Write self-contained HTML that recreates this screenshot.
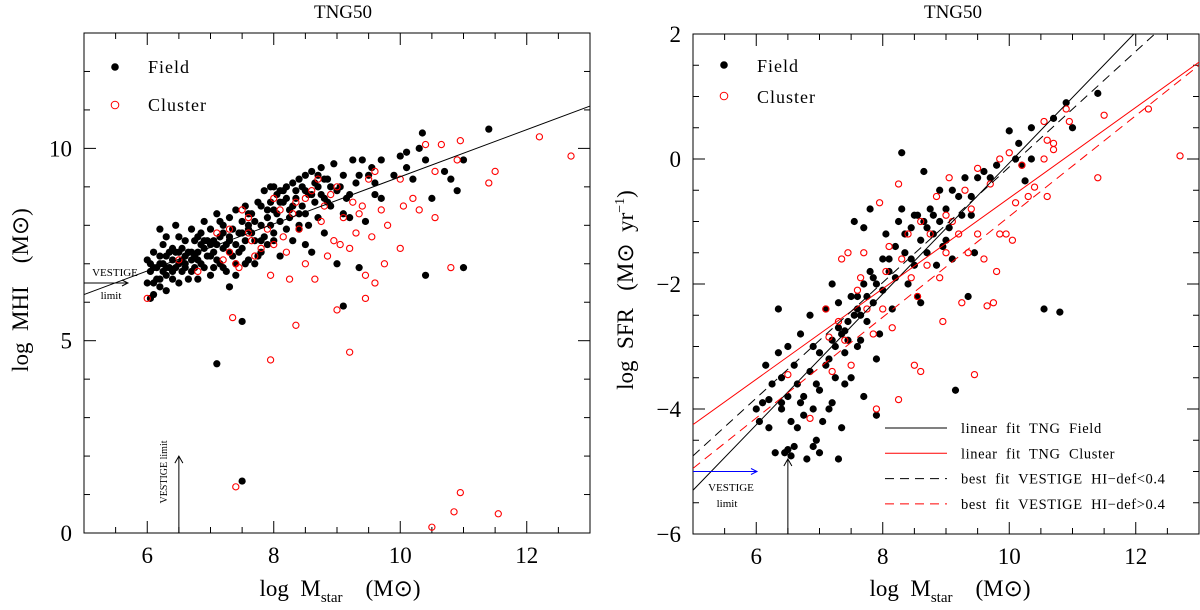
<!DOCTYPE html>
<html><head><meta charset="utf-8"><style>
html,body{margin:0;padding:0;background:#fff;}
svg{display:block;font-family:"Liberation Serif",serif;}
text{white-space:pre;}
</style></head><body>
<svg id="fig" width="1200" height="610" viewBox="0 0 1200 610" xmlns="http://www.w3.org/2000/svg"></svg>
<script>
// ---- data ----
const xTicksMajor = [6, 8, 10, 12];
const leftYTicksMajor = [0, 5, 10];
const rightYTicksMajor = [-6, -4, -2, 0, 2];
const leftField = [[6.0,7.1],[6.0,6.5],[6.05,6.8],[6.1,7.3],[6.1,6.2],[6.15,6.9],[6.2,7.0],[6.2,6.4],[6.25,7.5],[6.3,6.7],[6.3,7.2],[6.35,6.9],[6.4,7.4],[6.4,6.6],[6.45,8.0],[6.5,7.7],[6.5,7.0],[6.55,6.8],[6.6,7.6],[6.6,7.2],[6.65,6.6],[6.7,7.9],[6.7,7.3],[6.75,6.9],[6.8,7.7],[6.8,7.1],[6.85,7.5],[6.9,8.1],[6.9,6.9],[6.95,7.6],[7.0,7.2],[7.0,7.9],[7.05,6.9],[7.1,8.3],[7.1,7.5],[7.15,7.0],[7.2,8.0],[7.2,7.4],[7.25,6.8],[7.3,8.2],[7.3,7.7],[7.35,7.2],[7.4,8.4],[7.4,7.0],[7.45,7.8],[7.5,8.1],[7.5,7.4],[7.55,8.5],[7.6,7.9],[7.6,7.1],[7.65,8.3],[7.7,7.6],[7.7,7.0],[7.75,8.6],[7.8,8.0],[7.8,7.3],[7.85,8.9],[7.9,8.2],[7.9,7.5],[7.95,9.0],[8.0,8.4],[8.0,7.8],[8.05,8.8],[8.1,8.1],[8.1,7.2],[8.15,8.6],[8.2,9.0],[8.2,7.9],[8.25,8.4],[8.3,9.1],[8.3,7.6],[8.35,8.7],[8.4,9.2],[8.4,8.0],[8.45,8.5],[8.5,9.3],[8.5,7.5],[8.55,8.8],[8.6,9.4],[8.6,7.3],[8.65,8.6],[8.7,9.0],[8.7,8.2],[8.75,9.5],[8.8,8.7],[8.8,7.8],[8.85,9.2],[8.9,8.5],[8.95,9.6],[9.0,8.9],[9.0,7.0],[9.1,8.3],[9.1,9.3],[9.2,8.8],[9.25,9.7],[9.3,9.1],[9.35,6.9],[9.4,9.7],[9.45,8.1],[9.5,9.3],[9.6,9.1],[9.7,9.7],[9.7,8.7],[10.0,9.8],[10.1,9.9],[10.1,9.5],[10.2,9.2],[10.3,10.0],[10.35,10.4],[10.4,9.7],[10.5,8.7],[10.7,9.4],[10.8,9.2],[10.9,8.9],[11.0,9.7],[11.0,6.9],[11.4,10.5],[10.4,6.7],[9.1,5.9],[7.3,6.4],[7.5,5.5],[7.1,4.4],[7.5,1.35],[6.05,6.1],[6.3,6.3],[8.4,7.9],[8.0,7.6],[7.6,8.0],[7.2,7.8],[6.9,7.4],[6.6,7.0],[6.4,7.1],[6.2,6.6],[6.7,6.8],[7.0,6.7],[7.3,7.3],[7.4,6.7],[6.8,6.6],[6.5,6.5],[6.3,7.7],[6.2,7.9],[7.8,8.5],[8.1,8.6],[8.5,8.3],[8.9,9.0],[9.2,8.2],[9.6,8.8],[9.9,9.3],[6.1,6.9],[6.45,7.3],[6.75,7.6],[7.05,7.3],[7.55,7.6],[7.15,7.7],[6.55,7.4],[6.25,7.0],[6.85,7.0],[7.95,8.0],[8.25,8.2],[8.55,8.0],[8.75,8.8],[6.05,7.0],[6.15,6.6],[6.25,6.8],[6.35,7.3],[6.45,6.9],[6.55,7.1],[6.65,7.3],[6.75,7.2],[6.85,7.8],[6.95,7.2],[7.05,7.6],[7.15,8.1],[7.25,7.5],[7.35,7.9],[7.45,7.3],[7.55,7.0],[7.65,7.8],[7.75,7.2],[7.85,7.7],[7.95,8.6],[8.05,8.3],[8.15,8.9],[8.35,8.9],[8.45,9.0],[8.65,9.1],[8.85,8.6],[9.05,9.0],[9.15,8.7],[9.35,9.3],[9.55,9.5],[6.1,6.5],[6.3,6.9],[6.5,7.3],[6.7,7.1],[6.9,7.6],[7.1,7.1],[7.3,7.6],[7.5,7.8],[7.7,8.1],[7.9,8.4],[8.1,8.9],[8.3,8.5],[8.5,8.9],[8.7,9.3],[6.2,7.2],[6.4,6.8],[6.6,6.9],[6.8,7.3],[7.0,7.5],[7.2,6.9],[7.4,7.5],[7.6,8.3],[7.8,7.6],[8.0,9.0],[8.2,8.7],[8.4,8.3],[8.6,8.8],[8.8,9.2]];
const leftCluster = [[6.0,6.1],[6.5,7.1],[6.8,6.8],[7.1,7.8],[7.2,7.1],[7.3,7.9],[7.3,7.3],[7.4,7.0],[7.45,6.9],[7.5,8.4],[7.6,8.2],[7.65,7.6],[7.7,7.2],[7.8,7.4],[7.9,7.9],[7.95,6.7],[8.0,8.7],[8.0,7.5],[8.1,8.4],[8.2,7.3],[8.25,6.6],[8.3,8.3],[8.35,8.6],[8.4,7.9],[8.5,8.7],[8.5,7.0],[8.6,8.9],[8.65,6.6],[8.7,9.2],[8.8,8.5],[8.85,7.2],[8.9,8.8],[8.95,7.6],[9.0,9.0],[9.05,7.5],[9.1,8.2],[9.2,7.4],[9.25,8.6],[9.3,7.8],[9.35,8.3],[9.4,8.5],[9.45,6.7],[9.5,9.2],[9.55,7.7],[9.6,9.4],[9.6,6.5],[9.7,8.4],[9.75,7.0],[9.8,8.0],[10.0,9.2],[10.0,7.4],[10.05,8.5],[10.2,8.7],[10.3,8.4],[10.4,10.1],[10.55,9.4],[10.55,8.2],[10.65,10.1],[10.8,6.9],[10.9,9.7],[10.95,10.2],[11.4,9.1],[11.5,9.4],[12.2,10.3],[12.7,9.8],[7.35,5.6],[7.95,4.5],[8.35,5.4],[9.0,5.8],[9.2,4.7],[9.45,6.1],[7.4,1.2],[10.5,0.15],[10.85,0.55],[10.95,1.05],[11.55,0.5],[7.6,7.8],[8.15,7.7],[8.75,8.1]];
const rightField = [[6.0,-4.0],[6.05,-4.2],[6.1,-3.9],[6.15,-3.3],[6.2,-4.3],[6.25,-3.6],[6.3,-4.7],[6.35,-2.4],[6.35,-3.1],[6.4,-3.5],[6.45,-4.7],[6.5,-3.8],[6.5,-3.0],[6.55,-4.2],[6.6,-4.6],[6.6,-3.3],[6.65,-4.3],[6.7,-2.8],[6.7,-3.9],[6.75,-4.1],[6.8,-4.8],[6.85,-2.5],[6.85,-3.4],[6.9,-4.0],[6.95,-4.5],[7.0,-3.1],[7.0,-3.7],[7.05,-4.2],[7.1,-2.4],[7.1,-3.3],[7.15,-4.0],[7.2,-2.0],[7.2,-2.9],[7.25,-3.5],[7.3,-2.3],[7.3,-4.8],[7.35,-2.8],[7.4,-3.1],[7.45,-2.6],[7.5,-2.2],[7.5,-3.5],[7.55,-1.0],[7.6,-2.4],[7.65,-2.9],[7.7,-1.1],[7.7,-2.0],[7.75,-2.6],[7.8,-0.8],[7.8,-1.8],[7.85,-2.3],[7.9,-3.2],[7.95,-2.8],[8.0,-1.6],[8.0,-2.1],[8.05,-1.2],[8.1,-1.8],[8.15,-2.4],[8.2,-1.4],[8.25,-1.0],[8.3,0.1],[8.3,-0.8],[8.35,-1.5],[8.4,-2.0],[8.45,-1.1],[8.5,-0.9],[8.5,-1.7],[8.55,-2.2],[8.6,-1.3],[8.65,-0.2],[8.65,-1.0],[8.7,-1.5],[8.75,-0.8],[8.8,-1.2],[8.85,-1.7],[8.9,-0.5],[8.9,-1.0],[8.95,-1.4],[9.0,-0.8],[9.05,-1.1],[9.1,-1.6],[9.15,-3.7],[9.2,-0.6],[9.25,-0.9],[9.3,-0.3],[9.35,-2.2],[9.4,-0.6],[9.45,-1.5],[9.5,-0.3],[9.6,-0.2],[9.7,-0.3],[9.8,-0.1],[10.0,0.45],[10.1,0.0],[10.15,0.25],[10.2,-0.1],[10.25,-0.35],[10.35,0.5],[10.35,0.0],[10.55,-2.4],[10.7,0.65],[10.8,-2.45],[10.9,0.9],[11.0,0.5],[11.4,1.05],[6.2,-3.85],[6.4,-3.9],[6.55,-4.75],[6.75,-3.8],[6.95,-3.6],[7.2,-3.9],[7.35,-4.3],[7.25,-3.0],[7.6,-3.0],[7.9,-4.1],[7.4,-3.6],[7.65,-2.5],[8.6,-2.3],[7.7,-3.8],[6.5,-4.65],[6.9,-4.6],[7.0,-4.7],[7.3,-2.7],[7.4,-2.75],[7.55,-2.5],[7.75,-2.2],[7.85,-1.9],[8.1,-1.6],[8.2,-1.9],[8.35,-1.2],[8.45,-1.6],[8.55,-0.9],[8.7,-1.1],[8.8,-0.9],[9.0,-1.3],[9.1,-0.5],[9.4,-0.9],[6.4,-4.0],[6.65,-3.6],[6.9,-3.0],[7.15,-3.2],[7.45,-2.9],[7.6,-2.2],[7.9,-2.0]];
const rightCluster = [[6.5,-3.45],[6.85,-4.15],[7.1,-2.4],[7.15,-2.85],[7.2,-3.4],[7.3,-2.6],[7.35,-1.6],[7.4,-2.9],[7.45,-1.5],[7.5,-3.3],[7.6,-2.1],[7.65,-1.9],[7.7,-1.5],[7.75,-2.4],[7.85,-2.8],[7.9,-4.0],[7.95,-0.7],[8.0,-2.4],[8.05,-1.8],[8.1,-1.4],[8.15,-2.7],[8.25,-3.85],[8.25,-0.4],[8.3,-1.6],[8.4,-1.2],[8.45,-1.9],[8.5,-3.3],[8.55,-2.2],[8.6,-3.4],[8.6,-1.0],[8.7,-1.7],[8.75,-1.2],[8.85,-0.6],[8.9,-1.9],[8.95,-2.6],[9.0,-0.9],[9.0,-1.5],[9.05,-0.3],[9.1,-1.0],[9.2,-1.2],[9.25,-2.3],[9.3,-0.5],[9.35,-1.5],[9.4,-0.8],[9.45,-3.45],[9.5,-0.15],[9.5,-1.2],[9.6,-1.6],[9.65,-2.35],[9.7,-0.4],[9.75,-2.3],[9.8,-1.8],[9.85,0.0],[9.85,-1.2],[9.95,-1.2],[10.0,0.1],[10.05,-1.3],[10.1,-0.7],[10.2,-0.1],[10.3,-0.6],[10.4,-0.45],[10.55,0.6],[10.55,0.0],[10.6,-0.6],[10.6,0.3],[10.7,0.15],[10.7,0.25],[10.9,0.8],[10.95,0.6],[11.4,-0.3],[11.5,0.7],[12.2,0.8],[12.7,0.05]];
const leftFitLine = [[5, 6.2], [13, 11.1]];
const fieldFit = [[5, -5.3], [11.97, 2]];
const clusterFit = [[5, -4.25], [13, 1.55]];
const vestigeLowFit = [[5, -4.75], [12.3, 2]];
const vestigeHighFit = [[5, -4.95], [13, 1.5]];

const NS = "http://www.w3.org/2000/svg";
const svg = document.getElementById('fig');
function el(tag, attrs, parent) {
  const e = document.createElementNS(NS, tag);
  for (const k in attrs) e.setAttribute(k, attrs[k]);
  (parent || svg).appendChild(e);
  return e;
}
function txt(s, attrs, parent) { const t = el('text', attrs, parent); t.textContent = s; return t; }

function panel(cfg) {
  const g = el('g', {});
  
  
  const X = v => cfg.x0 + (v - 5) / 8 * (cfg.x1 - cfg.x0);
  const Y = v => cfg.y1 - (v - cfg.ymin) / (cfg.ymax - cfg.ymin) * (cfg.y1 - cfg.y0);
  const frame = el('rect', {x: cfg.x0, y: cfg.y0, width: cfg.x1 - cfg.x0, height: cfg.y1 - cfg.y0, fill: 'none', stroke: '#000', 'stroke-width': 1}, g);
  
  
  for (let v = 5.5; v < 13; v += 0.5) {
    const major = xTicksMajor.includes(v);
    const Lt = major ? 12 : 6;
    el('line', {x1: X(v), x2: X(v), y1: cfg.y1, y2: cfg.y1 - Lt, stroke: '#000'}, g);
    el('line', {x1: X(v), x2: X(v), y1: cfg.y0, y2: cfg.y0 + Lt, stroke: '#000'}, g);
  }
  xTicksMajor.forEach(v => {
    const t = txt(String(v), {x: X(v), y: cfg.y1 + 30, 'font-size': 23, 'text-anchor': 'middle'}, g);
    
    
  });
  for (let v = cfg.ymin + cfg.ystep; v < cfg.ymax - 1e-9; v += cfg.ystep) {
    const major = cfg.yMajor.some(m => Math.abs(m - v) < 1e-9);
    const Lt = major ? 12 : 6;
    el('line', {x1: cfg.x0, x2: cfg.x0 + Lt, y1: Y(v), y2: Y(v), stroke: '#000'}, g);
    el('line', {x1: cfg.x1, x2: cfg.x1 - Lt, y1: Y(v), y2: Y(v), stroke: '#000'}, g);
  }
  cfg.yMajor.forEach(v => {
    const t = txt(v < 0 ? '\u2212' + Math.abs(v) : String(v), {x: cfg.x0 - 12, y: Y(v) + 8, 'font-size': 23, 'text-anchor': 'end'}, g);
    
    
  });
  return {g, X, Y};
}

function dots(p, data, cls) {
  data.forEach(d => {
    let c;
    if (cls === 'field') c = el('circle', {cx: p.X(d[0]), cy: p.Y(d[1]), r: 3.6, fill: '#000'}, p.g);
    else c = el('circle', {cx: p.X(d[0]), cy: p.Y(d[1]), r: 3.1, fill: 'none', stroke: '#f00', 'stroke-width': 1.1}, p.g);
    
    
  });
}
function fitLine(p, seg, color, dash, name) {
  const l = el('line', {x1: p.X(seg[0][0]), y1: p.Y(seg[0][1]), x2: p.X(seg[1][0]), y2: p.Y(seg[1][1]), stroke: color, 'stroke-width': 1, 'stroke-dasharray': dash || 'none'}, p.g);
  
  
}
const defs = el('defs', {});
el('clipPath', {id: 'clipR'}, defs);
el('rect', {x: 693, y: 34, width: 506, height: 500}, defs.lastChild);

// ---- left panel ----
const L = panel({name: 'left-panel', x0: 84, x1: 590, y0: 33, y1: 533, ymin: 0, ymax: 13, ystep: 1, yMajor: leftYTicksMajor});
dots(L, leftField, 'field');
dots(L, leftCluster, 'cluster');
fitLine(L, leftFitLine, '#000', null, 'fit-line');
txt('TNG50', {x: 343, y: 18, 'font-size': 19, 'text-anchor': 'middle'}, L.g);
const yl = txt('log  MHI    (M\u2299)', {x: 0, y: 0, 'font-size': 23, 'text-anchor': 'middle', transform: 'translate(28,290) rotate(-90)'}, L.g);


const xl = txt('', {x: 340, y: 596, 'font-size': 23, 'text-anchor': 'middle'}, L.g);
xl.innerHTML = 'log  M<tspan font-size="15" dy="6">star</tspan><tspan dy="-6">    (M\u2299)</tspan>';


el('circle', {cx: 115, cy: 67, r: 3.8, fill: '#000'}, L.g);
txt('Field', {x: 148, y: 73, 'font-size': 18, 'letter-spacing': 1}, L.g);
el('circle', {cx: 115, cy: 105, r: 3.8, fill: 'none', stroke: '#f00'}, L.g);
txt('Cluster', {x: 148, y: 111, 'font-size': 18, 'letter-spacing': 1}, L.g);
el('line', {x1: 84, y1: L.Y(6.5), x2: 128, y2: L.Y(6.5), stroke: '#000'}, L.g);
el('path', {d: `M122 ${L.Y(6.5)-3} L128 ${L.Y(6.5)} L122 ${L.Y(6.5)+3}`, fill: 'none', stroke: '#000'}, L.g);
txt('VESTIGE', {x: 115, y: 276, 'font-size': 11, 'text-anchor': 'middle'}, L.g);
txt('limit', {x: 111, y: 299, 'font-size': 11, 'text-anchor': 'middle'}, L.g);
el('line', {x1: L.X(6.5), y1: 533, x2: L.X(6.5), y2: L.Y(2.0), stroke: '#000'}, L.g);
el('path', {d: `M${L.X(6.5)-4} ${L.Y(2)+7} L${L.X(6.5)} ${L.Y(2)} L${L.X(6.5)+4} ${L.Y(2)+7}`, fill: 'none', stroke: '#000'}, L.g);
txt('VESTIGE limit', {x: 0, y: 0, 'font-size': 10, 'text-anchor': 'middle', transform: 'translate(167,472) rotate(-90)'}, L.g);

// ---- right panel ----
const R = panel({name: 'right-panel', x0: 693, x1: 1199, y0: 34, y1: 534, ymin: -6, ymax: 2, ystep: 0.5, yMajor: rightYTicksMajor});
dots(R, rightField, 'field');
dots(R, rightCluster, 'cluster');
const fg = el('g', {'clip-path': 'url(#clipR)'}, R.g);
const Rc = {g: fg, X: R.X, Y: R.Y};
fitLine(Rc, fieldFit, '#000', null, 'fit-tng-field');
fitLine(Rc, clusterFit, '#f00', null, 'fit-tng-cluster');
fitLine(Rc, vestigeLowFit, '#000', '9,6', 'fit-vestige-low-def');
fitLine(Rc, vestigeHighFit, '#f00', '9,6', 'fit-vestige-high-def');
txt('TNG50', {x: 953, y: 18, 'font-size': 19, 'text-anchor': 'middle'}, R.g);
const yr = txt('', {x: 0, y: 0, 'font-size': 23, 'text-anchor': 'middle', transform: 'translate(633,290) rotate(-90)'}, R.g);
yr.innerHTML = 'log  SFR   (M\u2299  yr<tspan font-size="14" dy="-9">\u22121</tspan><tspan dy="9">)</tspan>';


const xr = txt('', {x: 950, y: 596, 'font-size': 23, 'text-anchor': 'middle'}, R.g);
xr.innerHTML = 'log  M<tspan font-size="15" dy="6">star</tspan><tspan dy="-6">    (M\u2299)</tspan>';


el('circle', {cx: 724, cy: 65, r: 3.8, fill: '#000'}, R.g);
txt('Field', {x: 757, y: 72, 'font-size': 18, 'letter-spacing': 1}, R.g);
el('circle', {cx: 724, cy: 96, r: 3.8, fill: 'none', stroke: '#f00'}, R.g);
txt('Cluster', {x: 757, y: 103, 'font-size': 18, 'letter-spacing': 1}, R.g);
const legItems = [['linear fit TNG Field', '#000', 'none'], ['linear fit TNG Cluster', '#f00', 'none'], ['best fit VESTIGE HI\u2212def<0.4', '#000', '9,6'], ['best fit VESTIGE HI\u2212def>0.4', '#f00', '9,6']];
legItems.forEach((it, i) => {
  const y = 428 + i * 25.3;
  const l = el('line', {x1: 885, x2: 947, y1: y, y2: y, stroke: it[1], 'stroke-dasharray': it[2]}, R.g);
  
  
  const t = txt(it[0].replace(/ /g, '  '), {x: 961, y: y + 5, 'font-size': 14.5, 'letter-spacing': 0.6}, R.g);
  
  
});
el('line', {x1: 693, y1: R.Y(-5), x2: 757, y2: R.Y(-5), stroke: '#00f'}, R.g);
el('path', {d: `M751 ${R.Y(-5)-3} L757 ${R.Y(-5)} L751 ${R.Y(-5)+3}`, fill: 'none', stroke: '#00f'}, R.g);
txt('VESTIGE', {x: 731, y: 491, 'font-size': 11, 'text-anchor': 'middle'}, R.g);
txt('limit', {x: 727, y: 507, 'font-size': 11, 'text-anchor': 'middle'}, R.g);
el('line', {x1: R.X(6.5), y1: 534, x2: R.X(6.5), y2: R.Y(-4.8), stroke: '#000'}, R.g);
el('path', {d: `M${R.X(6.5)-4} ${R.Y(-4.8)+7} L${R.X(6.5)} ${R.Y(-4.8)} L${R.X(6.5)+4} ${R.Y(-4.8)+7}`, fill: 'none', stroke: '#000'}, R.g);
</script>
</body></html>
